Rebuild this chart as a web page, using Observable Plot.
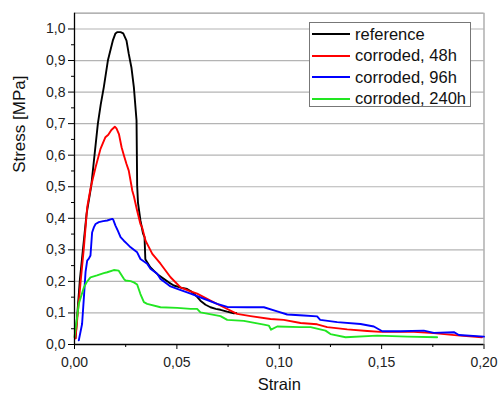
<!DOCTYPE html>
<html>
<head>
<meta charset="utf-8">
<script src="https://cdn.jsdelivr.net/npm/d3@7"></script>
<script src="https://cdn.jsdelivr.net/npm/@observablehq/plot@0.6"></script>
<style>
  html, body { margin: 0; padding: 0; background: #fff; }
  #chart { position: relative; width: 498px; height: 395px; font-family: "Liberation Sans", Arial, sans-serif; }
  #chart svg { position: absolute; left: 0; top: 0; }
  .legend { position: absolute; left: 309px; top: 22px; width: 162px; height: 85px; border: 1px solid #777; background: #fff; box-sizing: border-box; }
  .legend .row { position: absolute; left: 0; height: 20px; display: flex; align-items: center; }
  .legend .swatch { width: 38px; height: 2px; margin-left: 2px; margin-right: 5px; }
  .legend .label { font-size: 16.5px; color: #111; white-space: nowrap; }
</style>
</head>
<body>
<div id="chart"></div>
<script>
// Stress–strain curves for the reference sample and three corrosion times
const seriesNames = ["reference", "corroded, 48h", "corroded, 96h", "corroded, 240h"];
const seriesColors = ["#000000", "#ff0000", "#0000ff", "#22e622"];

const refStrain = [0.0005, 0.0026, 0.0059, 0.0082, 0.0114, 0.0128, 0.0143, 0.0163, 0.0187, 0.0200, 0.0208, 0.0225, 0.0238, 0.0254, 0.0265, 0.0278, 0.0290, 0.0303, 0.0306, 0.0310, 0.0322, 0.0335, 0.0342, 0.0346, 0.0355, 0.0370, 0.0387, 0.0410, 0.0436, 0.0460, 0.0485, 0.0520, 0.0550, 0.0575, 0.0600, 0.0615, 0.0640, 0.0664, 0.0690, 0.0713, 0.0745, 0.0778, 0.0790];
const refStress = [0.020, 0.203, 0.414, 0.504, 0.699, 0.760, 0.815, 0.900, 0.963, 0.986, 0.990, 0.990, 0.986, 0.963, 0.921, 0.878, 0.815, 0.710, 0.504, 0.450, 0.393, 0.351, 0.340, 0.270, 0.261, 0.245, 0.234, 0.220, 0.208, 0.197, 0.187, 0.180, 0.176, 0.166, 0.150, 0.139, 0.126, 0.118, 0.113, 0.110, 0.104, 0.099, 0.100];

const c48Strain = [0.0005, 0.0030, 0.0046, 0.0062, 0.0080, 0.0103, 0.0127, 0.0151, 0.0165, 0.0180, 0.0197, 0.0205, 0.0217, 0.0230, 0.0241, 0.0254, 0.0265, 0.0278, 0.0282, 0.0290, 0.0306, 0.0322, 0.0330, 0.0347, 0.0355, 0.0380, 0.0420, 0.0469, 0.0518, 0.0560, 0.0599, 0.0664, 0.0729, 0.0794, 0.0860, 0.0957, 0.1022, 0.1104, 0.1185, 0.1234, 0.1332, 0.1430, 0.1494, 0.1570, 0.1657, 0.1755, 0.1869, 0.1990];
const c48Stress = [0.020, 0.200, 0.308, 0.435, 0.500, 0.562, 0.620, 0.657, 0.665, 0.680, 0.690, 0.685, 0.667, 0.625, 0.600, 0.572, 0.551, 0.504, 0.488, 0.470, 0.424, 0.382, 0.372, 0.329, 0.319, 0.287, 0.256, 0.213, 0.181, 0.170, 0.161, 0.139, 0.118, 0.097, 0.090, 0.081, 0.078, 0.068, 0.064, 0.055, 0.048, 0.043, 0.040, 0.040, 0.040, 0.036, 0.029, 0.023];

const c96Strain = [0.0021, 0.0037, 0.0046, 0.0054, 0.0062, 0.0070, 0.0078, 0.0086, 0.0095, 0.0103, 0.0119, 0.0140, 0.0160, 0.0184, 0.0189, 0.0200, 0.0212, 0.0225, 0.0241, 0.0257, 0.0274, 0.0306, 0.0322, 0.0355, 0.0371, 0.0404, 0.0420, 0.0453, 0.0469, 0.0502, 0.0567, 0.0632, 0.0697, 0.0746, 0.0843, 0.0925, 0.0990, 0.1039, 0.1120, 0.1185, 0.1200, 0.1283, 0.1397, 0.1462, 0.1503, 0.1592, 0.1706, 0.1755, 0.1853, 0.1877, 0.2000];
const c96Stress = [0.013, 0.065, 0.150, 0.230, 0.266, 0.272, 0.282, 0.355, 0.372, 0.382, 0.388, 0.391, 0.393, 0.398, 0.396, 0.377, 0.360, 0.340, 0.329, 0.319, 0.308, 0.292, 0.271, 0.256, 0.240, 0.224, 0.208, 0.192, 0.184, 0.176, 0.161, 0.145, 0.129, 0.119, 0.118, 0.118, 0.105, 0.095, 0.092, 0.089, 0.078, 0.071, 0.065, 0.057, 0.042, 0.042, 0.044, 0.037, 0.039, 0.030, 0.025];

const c240Strain = [0.0000, 0.0021, 0.0046, 0.0060, 0.0078, 0.0110, 0.0143, 0.0160, 0.0192, 0.0216, 0.0241, 0.0249, 0.0274, 0.0290, 0.0306, 0.0322, 0.0339, 0.0355, 0.0420, 0.0502, 0.0567, 0.0599, 0.0615, 0.0713, 0.0746, 0.0827, 0.0925, 0.0949, 0.0960, 0.0990, 0.1104, 0.1153, 0.1226, 0.1250, 0.1324, 0.1478, 0.1625, 0.1771];
const c240Stress = [0.023, 0.129, 0.181, 0.198, 0.213, 0.219, 0.226, 0.229, 0.236, 0.234, 0.208, 0.203, 0.201, 0.197, 0.190, 0.160, 0.134, 0.129, 0.118, 0.116, 0.113, 0.113, 0.102, 0.090, 0.078, 0.075, 0.063, 0.060, 0.047, 0.057, 0.055, 0.055, 0.044, 0.033, 0.023, 0.028, 0.025, 0.023];

const yTicks = [0.0, 0.1, 0.2, 0.3, 0.4, 0.5, 0.6, 0.7, 0.8, 0.9, 1.0];
const yMinorTicks = [0.05, 0.15, 0.25, 0.35, 0.45, 0.55, 0.65, 0.75, 0.85, 0.95];
const xTicks = [0.00, 0.05, 0.10, 0.15, 0.20];
const xMinorTicks = [0.025, 0.075, 0.125, 0.175];

const strains = [refStrain, c48Strain, c96Strain, c240Strain];
const stresses = [refStress, c48Stress, c96Stress, c240Stress];
const rows = seriesNames.flatMap((name, k) =>
  strains[k].map((s, i) => ({series: name, strain: s, stress: stresses[k][i]})));

const comma = (digits) => (v) => d3.format(`.${digits}f`)(v).replace(".", ",");
const font = '"Liberation Sans", Arial, sans-serif';

const plot = Plot.plot({
  width: 498,
  height: 395,
  marginLeft: 74,
  marginRight: 14.5,
  marginTop: 12.7,
  marginBottom: 51,
  style: {fontFamily: font, fontSize: "14px", color: "#222", background: "#fff"},
  x: {domain: [0, 0.2]},
  y: {domain: [0, 1.05]},
  color: {domain: seriesNames, range: seriesColors},
  marks: [
    Plot.gridY(yTicks.slice(1), {stroke: "#b4b4b4", strokeOpacity: 1, strokeWidth: 1.2}),
    Plot.ruleY([1.05], {stroke: "#9a9a9a", strokeWidth: 1.2}),
    Plot.ruleX([0.2], {stroke: "#9a9a9a", strokeWidth: 1.2}),
    Plot.line(rows, {x: "strain", y: "stress", z: "series", stroke: "series", strokeWidth: 1.9, curve: "linear"}),
    Plot.ruleX([0], {stroke: "#000", strokeWidth: 1.3}),
    Plot.ruleY([0], {stroke: "#000", strokeWidth: 1.3}),
    Plot.axisY(yTicks, {tickSize: 6, tickPadding: 3, tickFormat: comma(1), label: null, stroke: "#000", fontSize: 14}),
    Plot.axisY(yMinorTicks, {tickSize: 3, tickFormat: null, text: null, label: null, stroke: "#000"}),
    Plot.axisX(xTicks, {tickSize: 5, tickPadding: 8, tickFormat: comma(2), label: null, stroke: "#000", fontSize: 14}),
    Plot.axisX(xMinorTicks, {tickSize: 3, tickFormat: null, text: null, label: null, stroke: "#000"}),
    Plot.text(["Stress [MPa]"], {frameAnchor: "left", rotate: -90, dx: -55, dy: -6, fontSize: 17, fill: "#111", lineAnchor: "middle"}),
    Plot.text(["Strain"], {frameAnchor: "bottom", dy: 40, fontSize: 16.5, fill: "#111", lineAnchor: "middle"})
  ]
});

const chart = document.getElementById("chart");
chart.appendChild(plot);

// Legend box in the upper right of the plot area
const legend = document.createElement("div");
legend.className = "legend";
seriesNames.forEach((name, k) => {
  const row = document.createElement("div");
  row.className = "row";
  row.style.top = (1 + k * 21.5) + "px";
  const sw = document.createElement("div");
  sw.className = "swatch";
  sw.style.background = seriesColors[k];
  const lab = document.createElement("span");
  lab.className = "label";
  lab.textContent = name;
  row.appendChild(sw);
  row.appendChild(lab);
  legend.appendChild(row);
});
chart.appendChild(legend);
</script>
</body>
</html>
